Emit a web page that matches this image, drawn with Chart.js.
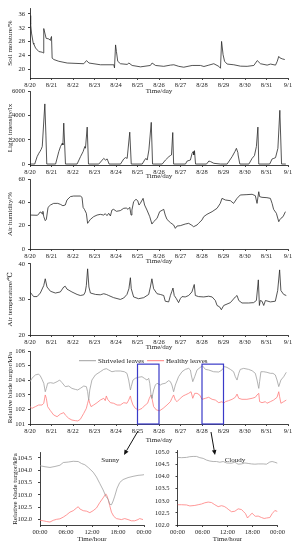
<!DOCTYPE html>
<html>
<head>
<meta charset="utf-8">
<script src="https://cdn.jsdelivr.net/npm/chart.js@4.4.1/dist/chart.umd.min.js"></script>
<style>
    html, body { margin: 0; padding: 0; background: #fff; }
    #wrap { position: relative; width: 298px; height: 550px; overflow: hidden; }
    #wrap canvas { position: absolute; }
</style>
</head>
<body>
<div id="wrap"></div>
<script>
// x positions are days since 8/20 00:00 (top panels) or hours of the day (bottom panels)
const dayTicks = [0, 1, 2, 3, 4, 5, 6, 7, 8, 9, 10, 11, 12];
const dayLabels = ['8/20', '8/21', '8/22', '8/23', '8/24', '8/25', '8/26', '8/27', '8/28', '8/29', '8/30', '8/31', '9/1'];
const hourTicks = [0, 6, 12, 18, 24];
const hourLabels = ['00:00', '06:00', '12:00', '18:00', '00:00'];

const soilTicks = [20, 24, 28, 32, 36];
const lightTicks = [0, 2000, 4000, 6000];
const humidityTicks = [0, 20, 40, 60];
const tempTicks = [20, 30, 40];
const turgorTicks = [101, 102, 103, 104, 105, 106];
const sunnyTicks = [102, 102.5, 103, 103.5, 104, 104.5];
const cloudyTicks = [102, 102.5, 103, 103.5, 104, 104.5, 105];

// Soil moisture (%)
const soilMoisture = [
    [0, 35.5], [0.03, 33.0], [0.07, 30.5], [0.15, 27.6], [0.18, 27.3], [0.26, 26.2], [0.41, 25.2], [0.57, 25.0], [0.61, 24.8], [0.64, 31.8],
    [0.75, 29.0], [0.88, 28.8], [0.95, 28.4], [0.98, 29.3], [1.0, 29.5], [1.03, 23.3], [1.11, 22.9], [1.34, 22.4], [1.73, 21.9], [2.5, 21.7],
    [2.63, 22.6], [2.74, 21.9], [3.28, 21.4], [3.9, 21.4], [3.93, 20.5], [3.98, 27.1], [4.02, 25.2], [4.08, 22.4], [4.21, 21.7], [4.52, 21.5],
    [4.6, 21.9], [4.75, 21.2], [5.14, 20.8], [5.6, 21.2], [5.68, 21.9], [5.84, 21.2], [6.22, 20.95], [6.53, 21.3], [6.69, 21.4], [6.92, 20.95],
    [7.15, 20.7], [7.54, 21.2], [7.93, 21.2], [8.09, 20.9], [8.32, 21.3], [8.55, 21.7], [8.78, 20.95], [8.86, 20.4], [8.91, 28.1], [8.98, 24.3],
    [9.05, 22.4], [9.17, 21.6], [9.48, 21.4], [9.79, 21.0], [10.1, 20.95], [10.41, 21.2], [10.57, 22.6], [10.72, 21.7], [11.03, 21.3], [11.19, 21.6],
    [11.42, 21.3], [11.5, 22.4], [11.57, 23.8], [11.62, 23.4], [11.73, 23.1], [11.85, 22.9]
];

// Light intensity (lx)
const lightIntensity = [
    [0, 0], [0.22, 0], [0.33, 610], [0.41, 890], [0.46, 1030], [0.52, 1220], [0.57, 1450], [0.69, 4980], [0.74, 2400], [0.78, 0],
    [1.19, 0], [1.34, 1030], [1.42, 1450], [1.5, 1720], [1.53, 1580], [1.57, 3390], [1.65, 0],
    [2.19, 0], [2.35, 610], [2.47, 1030], [2.55, 1450], [2.58, 1310], [2.66, 3060], [2.72, 0],
    [3.2, 0], [3.36, 330], [3.43, 470], [3.51, 330], [3.59, 420], [3.68, 0],
    [4.21, 0], [4.36, 420], [4.44, 530], [4.52, 470], [4.64, 2640], [4.71, 0],
    [5.22, 0], [5.33, 330], [5.39, 470], [5.45, 330], [5.53, 1170], [5.64, 3450], [5.7, 0],
    [6.15, 0], [6.3, 330], [6.46, 610], [6.53, 700], [6.58, 750], [6.64, 2610], [6.68, 0],
    [7.23, 0], [7.31, 250], [7.46, 330], [7.54, 890], [7.59, 1030], [7.62, 750], [7.65, 1110], [7.7, 0],
    [8.21, 0], [8.32, 250], [8.4, 200], [8.55, 60], [8.86, 0],
    [9.17, 0], [9.4, 610], [9.53, 1030], [9.6, 1300], [9.67, 940], [9.68, 750], [9.76, 0],
    [10.18, 0], [10.33, 470], [10.44, 700], [10.53, 1450], [10.6, 3060], [10.64, 0],
    [11.15, 0], [11.26, 420], [11.34, 470], [11.42, 530], [11.53, 1300], [11.62, 4450], [11.7, 0], [11.9, 0]
];

// Air humidity (%)
const airHumidity = [
    [0.02, 29.1], [0.33, 28.9], [0.4, 29.7], [0.45, 31.4], [0.51, 31.7], [0.57, 30.0], [0.6, 32.3], [0.64, 27.7], [0.71, 24.3], [0.76, 25.4],
    [0.84, 35.7], [0.95, 37.7], [1.1, 39.1], [1.29, 39.1], [1.41, 38.3], [1.53, 37.1], [1.64, 37.7], [1.72, 42.0], [1.88, 44.9], [2.03, 45.4],
    [2.34, 45.4], [2.42, 44.3], [2.47, 35.7], [2.53, 34.0], [2.62, 30.6], [2.68, 22.0], [2.73, 23.4], [2.81, 25.4], [2.96, 27.7], [3.12, 29.1],
    [3.27, 29.7], [3.43, 29.1], [3.5, 30.3], [3.58, 28.6], [3.66, 30.6], [3.74, 28.3], [3.81, 33.4], [3.89, 34.0], [4.02, 32.3], [4.2, 32.9],
    [4.36, 34.9], [4.48, 35.1], [4.56, 34.0], [4.64, 35.7], [4.7, 29.1], [4.74, 33.4], [4.82, 40.6], [4.93, 42.6], [5.01, 41.4], [5.07, 37.7],
    [5.13, 39.1], [5.26, 43.4], [5.33, 37.7], [5.44, 33.4], [5.57, 27.7], [5.67, 21.4], [5.75, 23.4], [5.91, 26.3], [6.03, 32.0], [6.22, 34.0],
    [6.29, 29.1], [6.37, 25.4], [6.53, 22.6], [6.68, 20.6], [6.76, 17.7], [6.84, 19.7], [6.99, 20.0], [7.22, 21.4], [7.38, 22.0], [7.53, 20.3],
    [7.61, 19.1], [7.77, 20.6], [7.84, 22.0], [8.0, 24.9], [8.08, 27.7], [8.23, 29.7], [8.47, 32.0], [8.7, 34.9], [8.85, 39.1], [8.93, 43.4],
    [9.09, 42.0], [9.32, 41.4], [9.47, 39.1], [9.63, 43.4], [9.78, 46.3], [10.09, 46.6], [10.33, 46.9], [10.48, 45.7], [10.56, 39.1], [10.64, 49.1],
    [10.68, 44.9], [10.79, 44.3], [11.02, 44.0], [11.18, 43.4], [11.26, 39.1], [11.33, 34.0], [11.46, 30.6], [11.57, 23.4], [11.61, 24.9], [11.67, 26.3],
    [11.77, 27.7], [11.88, 32.0]
];

// Air temperature (°C)
const airTemperature = [
    [0, 32.1], [0.09, 31.4], [0.17, 30.8], [0.33, 30.8], [0.48, 31.8], [0.64, 33.9], [0.71, 35.8], [0.79, 33.5], [0.95, 32.3], [1.18, 31.8],
    [1.41, 32.1], [1.57, 33.5], [1.64, 33.7], [1.72, 32.9], [1.95, 32.1], [2.19, 31.4], [2.34, 31.1], [2.5, 31.3], [2.57, 32.1], [2.62, 33.9],
    [2.68, 38.6], [2.74, 33.5], [2.81, 31.8], [3.05, 31.4], [3.27, 31.3], [3.43, 31.6], [3.55, 31.4], [3.66, 31.1], [3.89, 30.5], [4.2, 30.0],
    [4.36, 30.4], [4.51, 31.4], [4.6, 33.0], [4.67, 36.1], [4.71, 33.0], [4.82, 30.7], [5.05, 30.2], [5.29, 30.5], [5.52, 31.4], [5.6, 33.5],
    [5.67, 35.8], [5.75, 33.0], [5.91, 31.6], [6.06, 31.4], [6.22, 31.1], [6.29, 29.5], [6.45, 29.3], [6.53, 31.1], [6.6, 32.3], [6.65, 33.2],
    [6.71, 31.1], [6.81, 30.2], [6.91, 29.1], [6.99, 30.2], [7.07, 30.8], [7.22, 30.7], [7.38, 31.1], [7.53, 32.1], [7.64, 34.2], [7.69, 31.1],
    [7.84, 30.8], [8.08, 30.7], [8.31, 30.9], [8.47, 30.7], [8.62, 29.7], [8.7, 28.3], [8.82, 27.9], [8.9, 27.1], [9.01, 28.3], [9.32, 29.1],
    [9.55, 30.7], [9.63, 31.1], [9.71, 29.7], [9.86, 29.0], [10.17, 29.0], [10.4, 29.1], [10.53, 29.7], [10.62, 35.5], [10.67, 28.3], [10.71, 29.7],
    [10.79, 29.5], [10.87, 28.3], [10.95, 29.7], [11.18, 29.3], [11.41, 29.5], [11.52, 32.5], [11.61, 38.3], [11.67, 32.5], [11.8, 31.4], [11.92, 31.1]
];

// Relative blade turgor (kPa), 12 days
const shriveledTurgor = [
    [0, 103.9], [0.09, 104.13], [0.25, 104.36], [0.4, 104.42], [0.48, 104.29], [0.56, 104.06], [0.64, 103.79], [0.71, 103.21], [0.76, 103.44], [0.82, 103.79],
    [0.95, 103.83], [1.1, 103.79], [1.26, 103.9], [1.38, 104.01], [1.49, 103.83], [1.64, 103.56], [1.8, 103.6], [1.95, 103.44], [2.11, 103.37], [2.22, 103.33],
    [2.34, 103.44], [2.5, 103.6], [2.62, 103.56], [2.68, 103.21], [2.73, 102.64], [2.78, 103.33], [2.88, 104.01], [3.04, 104.36], [3.27, 104.58], [3.43, 104.74],
    [3.55, 104.79], [3.66, 104.7], [3.81, 104.58], [3.97, 104.63], [4.2, 104.63], [4.39, 104.58], [4.51, 104.47], [4.59, 104.01], [4.67, 103.33], [4.71, 103.56],
    [4.79, 104.01], [4.9, 104.13], [5.05, 104.2], [5.21, 104.24], [5.32, 104.13], [5.44, 104.01], [5.52, 104.13], [5.57, 103.79], [5.63, 102.99], [5.67, 102.76],
    [5.75, 103.33], [5.83, 103.67], [5.91, 103.79], [6.06, 103.67], [6.14, 103.74], [6.29, 103.79], [6.45, 103.97], [6.53, 103.9], [6.6, 103.67], [6.68, 103.21],
    [6.76, 103.67], [6.91, 104.24], [7.07, 104.58], [7.22, 104.74], [7.38, 104.81], [7.46, 104.7], [7.5, 104.36], [7.57, 103.9], [7.66, 104.24], [7.77, 104.7],
    [7.92, 104.88], [8.03, 104.97], [8.16, 104.74], [8.31, 104.7], [8.54, 104.58], [8.78, 104.56], [8.93, 104.7], [9.04, 104.93], [9.16, 104.88], [9.32, 104.74],
    [9.47, 104.58], [9.55, 104.24], [9.63, 104.01], [9.71, 104.47], [9.78, 104.74], [9.94, 104.81], [10.17, 104.74], [10.33, 104.65], [10.48, 104.47], [10.56, 104.01],
    [10.64, 103.44], [10.68, 103.9], [10.74, 104.58], [10.87, 104.58], [11.02, 104.54], [11.18, 104.47], [11.3, 104.47], [11.41, 104.36], [11.49, 104.01], [11.57, 103.56],
    [11.67, 104.01], [11.8, 104.24], [11.92, 104.54]
];
const healthyTurgor = [
    [0, 102.19], [0.09, 102.07], [0.25, 102.19], [0.4, 102.3], [0.56, 102.3], [0.64, 102.42], [0.71, 102.99], [0.76, 102.76], [0.82, 102.19], [0.95, 101.91],
    [1.1, 101.62], [1.26, 101.5], [1.41, 101.68], [1.57, 101.78], [1.64, 101.62], [1.8, 101.39], [1.95, 101.27], [2.11, 101.23], [2.22, 101.21], [2.34, 101.32],
    [2.5, 101.73], [2.62, 102.07], [2.68, 102.42], [2.73, 102.69], [2.78, 102.42], [2.84, 102.19], [2.96, 102.3], [3.12, 102.46], [3.27, 102.64], [3.43, 102.76],
    [3.5, 102.6], [3.55, 102.92], [3.61, 102.69], [3.74, 102.46], [3.89, 102.42], [4.05, 102.3], [4.2, 102.3], [4.36, 102.46], [4.51, 102.42], [4.59, 102.64],
    [4.67, 102.92], [4.71, 102.64], [4.79, 102.3], [4.9, 102.07], [5.05, 101.96], [5.21, 102.07], [5.36, 102.3], [5.47, 102.42], [5.55, 102.76], [5.63, 102.99],
    [5.69, 102.64], [5.75, 102.19], [5.88, 101.96], [6.03, 101.91], [6.19, 102.07], [6.37, 102.3], [6.53, 102.53], [6.6, 102.76], [6.68, 102.99], [6.76, 102.64],
    [6.84, 102.53], [6.99, 102.76], [7.12, 102.92], [7.22, 102.99], [7.38, 103.1], [7.49, 103.21], [7.57, 102.76], [7.66, 103.1], [7.77, 103.1], [7.89, 102.99],
    [8.0, 102.69], [8.16, 102.76], [8.31, 102.83], [8.47, 102.69], [8.62, 102.64], [8.78, 102.46], [8.93, 102.53], [9.01, 102.42], [9.09, 102.53], [9.24, 102.6],
    [9.4, 102.69], [9.55, 102.83], [9.63, 103.05], [9.71, 102.76], [9.86, 102.69], [10.09, 102.69], [10.33, 102.76], [10.48, 102.83], [10.56, 102.99], [10.64, 103.1],
    [10.68, 102.53], [10.79, 102.46], [10.95, 102.53], [11.02, 102.42], [11.18, 102.53], [11.33, 102.64], [11.49, 102.83], [11.57, 103.21], [11.61, 102.87], [11.67, 102.42],
    [11.8, 102.53], [11.92, 102.64]
];
const highlightDays = [[5, 6], [8, 9]];
const highlightTop = 105.1;

// Sunny day (8/25), hours
const sunnyShriveled = [
    [0, 104.18], [1.15, 104.14], [2.3, 104.11], [3.45, 104.15], [4.6, 104.2], [5.37, 104.31], [6.52, 104.33], [7.67, 104.36], [8.82, 104.35], [9.59, 104.27],
    [10.35, 104.22], [11.12, 104.11], [12.27, 103.92], [13.04, 103.72], [13.8, 103.46], [14.57, 103.2], [15.18, 102.95], [15.72, 102.82], [16.1, 102.62], [16.49, 102.6],
    [16.87, 102.75], [17.25, 102.95], [17.79, 103.27], [18.4, 103.5], [19.17, 103.62], [20.32, 103.7], [21.47, 103.75], [22.62, 103.79], [23.77, 103.81], [24, 103.82]
];
const sunnyHealthy = [
    [0, 101.97], [0.77, 101.95], [1.53, 101.92], [2.3, 101.9], [3.07, 101.97], [3.83, 102.01], [4.6, 102.03], [5.37, 102.1], [6.13, 102.19], [6.9, 102.3],
    [7.67, 102.36], [8.44, 102.47], [8.82, 102.52], [9.2, 102.43], [9.97, 102.36], [10.74, 102.34], [11.5, 102.28], [12.27, 102.36], [13.04, 102.47], [13.8, 102.69],
    [14.57, 102.88], [15.18, 103.04], [15.49, 102.95], [15.72, 102.82], [16.1, 102.56], [16.49, 102.3], [17.02, 102.13], [17.64, 102.04], [18.79, 102.0], [19.56, 102.04],
    [20.32, 102.0], [21.09, 101.95], [21.86, 101.95], [22.62, 102.0], [23.0, 102.04], [23.77, 102.0]
];

// Cloudy day (8/28), hours
const cloudyShriveled = [
    [0, 104.8], [0.96, 104.79], [2.16, 104.8], [2.96, 104.83], [3.76, 104.84], [4.56, 104.84], [5.36, 104.79], [6.16, 104.76], [6.96, 104.69], [7.76, 104.65],
    [8.56, 104.63], [9.36, 104.63], [10.16, 104.6], [10.96, 104.63], [11.76, 104.57], [12.96, 104.56], [13.76, 104.6], [14.56, 104.52], [15.36, 104.53], [16.16, 104.57],
    [16.96, 104.55], [17.76, 104.53], [18.56, 104.52], [19.36, 104.53], [20.56, 104.53], [21.36, 104.52], [22.16, 104.61], [22.72, 104.63], [23.36, 104.6], [24, 104.56]
];
const cloudyHealthy = [
    [0, 102.84], [0.96, 102.84], [2.16, 102.83], [2.96, 102.79], [4.16, 102.81], [4.96, 102.84], [5.76, 102.87], [6.56, 102.92], [7.36, 102.95], [8.16, 102.93],
    [8.96, 102.84], [9.76, 102.76], [10.56, 102.8], [11.2, 102.77], [11.76, 102.71], [12.32, 102.63], [12.96, 102.55], [13.76, 102.57], [14.56, 102.67], [15.36, 102.64],
    [15.76, 102.57], [16.32, 102.47], [16.8, 102.29], [17.36, 102.4], [17.92, 102.49], [18.4, 102.4], [18.72, 102.36], [19.36, 102.37], [20.16, 102.31], [20.8, 102.27],
    [21.36, 102.29], [22.16, 102.31], [22.72, 102.47], [23.36, 102.6], [24, 102.56]
];

const FONT = '"Liberation Serif", "DejaVu Serif", serif';
const LINE = '#2a2a2a';
const GREY = 'rgb(160,160,160)';
const RED = 'rgb(255,125,125)';

Chart.defaults.font.family = FONT;
Chart.defaults.color = '#222';

const wrap = document.getElementById('wrap');

// Build one panel; chart area is pinned to page coords given in o.area
function makePanel(o) {
    const left = o.canvasLeft || 0;
    const right = o.canvasRight || 298;
    const top = Math.floor(o.area.top - 7);
    const xh = o.titleOff + 4.5;
    const cv = document.createElement('canvas');
    cv.width = right - left;
    cv.height = Math.ceil(o.area.bottom + xh - top) + 1;
    cv.style.left = left + 'px';
    cv.style.top = top + 'px';
    wrap.appendChild(cv);

    const padBottom = cv.height - xh - (o.area.bottom - top);
    const axisGrid = { display: true, drawOnChartArea: false, drawTicks: true, tickLength: 2, color: '#111', lineWidth: 0.8 };

    return new Chart(cv, {
        type: 'line',
        data: {
            datasets: o.series.map(s => ({
                data: s.points.map(([x, y]) => ({ x, y })),
                borderColor: s.color,
                borderWidth: s.width || 0.8,
                pointRadius: 0,
                tension: 0,
                fill: false
            }))
        },
        options: {
            responsive: false,
            animation: false,
            devicePixelRatio: 1,
            events: [],
            layout: { padding: { top: o.area.top - top, right: right - o.area.right, left: 0, bottom: padBottom } },
            plugins: { legend: { display: false }, tooltip: { enabled: false } },
            scales: {
                x: {
                    type: 'linear',
                    min: o.xMin,
                    max: o.xMax,
                    afterBuildTicks: s => { s.ticks = o.xTicks.map(v => ({ value: v })); },
                    ticks: {
                        autoSkip: false, maxRotation: 0, padding: 1,
                        font: { size: 6.5 },
                        callback: v => o.xLabels[o.xTicks.indexOf(v)]
                    },
                    grid: axisGrid,
                    border: { color: '#111', width: 0.8 },
                    title: { display: true, text: o.xTitle, font: { size: 7 }, padding: 0 },
                    afterFit: s => { s.height = xh; }
                },
                y: {
                    type: 'linear',
                    min: o.yMin,
                    max: o.yMax,
                    afterBuildTicks: s => { s.ticks = o.yTicks.map(v => ({ value: v })); },
                    ticks: {
                        padding: o.yTickPad || 3,
                        font: { size: 6.5 },
                        callback: v => o.yFmt ? o.yFmt(v) : String(v)
                    },
                    grid: axisGrid,
                    border: { color: '#111', width: 0.8 },
                    title: { display: !!o.yTitle, text: o.yTitle || '', font: { size: 7 }, padding: { top: o.yTitlePad || 6, bottom: 0 } },
                    afterFit: s => { s.width = o.area.left - left; }
                }
            }
        },
        plugins: o.plugins || []
    });
}

const dayAxis = { xMin: 0, xMax: 12, xTicks: dayTicks, xLabels: dayLabels, xTitle: 'Time/day' };
const hourAxis = { xMin: 0, xMax: 24, xTicks: hourTicks, xLabels: hourLabels, xTitle: 'Time/hour' };

makePanel({
    ...dayAxis,
    area: { left: 30, right: 288, top: 8, bottom: 78 }, titleOff: 13,
    yMin: 17.6, yMax: 37.7, yTicks: soilTicks, yTitle: 'Soil moisture/%',
    series: [{ points: soilMoisture, color: LINE }]
});

makePanel({
    ...dayAxis,
    area: { left: 30, right: 288, top: 91, bottom: 165 }, titleOff: 11,
    yMin: -80, yMax: 6050, yTicks: lightTicks, yTitle: 'Light intensity/lx',
    series: [{ points: lightIntensity, color: LINE }]
});

makePanel({
    ...dayAxis,
    area: { left: 30, right: 288, top: 179, bottom: 249 }, titleOff: 12,
    yMin: 0, yMax: 60, yTicks: humidityTicks, yTitle: 'Air humidity/%',
    series: [{ points: airHumidity, color: LINE }]
});

makePanel({
    ...dayAxis,
    area: { left: 30, right: 288, top: 263.5, bottom: 335 }, titleOff: 11.5,
    yMin: 20, yMax: 40.1, yTicks: tempTicks, yTitle: 'Air temperature/\u2103',
    series: [{ points: airTemperature, color: LINE }]
});

// legend drawn inside the turgor panel, boxes mark the two days shown below
const turgorExtras = {
    id: 'turgorExtras',
    afterDatasetsDraw(chart) {
        const { ctx, chartArea } = chart;
        const xs = chart.scales.x, ys = chart.scales.y;
        ctx.save();
        ctx.strokeStyle = '#3a3ac8';
        ctx.lineWidth = 1.2;
        highlightDays.forEach(([a, b]) => {
            const x0 = xs.getPixelForValue(a), x1 = xs.getPixelForValue(b);
            const y0 = ys.getPixelForValue(highlightTop), y1 = ys.getPixelForValue(ys.min);
            ctx.strokeRect(x0, y0, x1 - x0, y1 - y0);
        });

        const ly = chartArea.top + 9.7;
        ctx.font = '7px ' + FONT;
        ctx.textBaseline = 'middle';
        ctx.lineWidth = 1;
        let lx = chartArea.left + 49;
        [['Shriveled leaves', GREY], ['Healthy leaves', RED]].forEach(([label, color]) => {
            ctx.strokeStyle = color;
            ctx.beginPath();
            ctx.moveTo(lx, ly);
            ctx.lineTo(lx + 17, ly);
            ctx.stroke();
            ctx.fillStyle = '#222';
            ctx.fillText(label, lx + 19, ly);
            lx += 19 + ctx.measureText(label).width + 3;
        });
        ctx.restore();
    }
};

makePanel({
    ...dayAxis,
    area: { left: 30, right: 288, top: 351, bottom: 424 }, titleOff: 15.5,
    yMin: 101, yMax: 106, yTicks: turgorTicks, yTitle: 'Relative blade turgor/kPa',
    series: [{ points: shriveledTurgor, color: GREY }, { points: healthyTurgor, color: RED }],
    plugins: [turgorExtras]
});

function noteLabel(text, hour, value) {
    return {
        id: 'note',
        afterDatasetsDraw(chart) {
            const ctx = chart.ctx;
            ctx.save();
            ctx.font = '7px ' + FONT;
            ctx.fillStyle = '#222';
            ctx.textAlign = 'center';
            ctx.textBaseline = 'middle';
            ctx.fillText(text, chart.scales.x.getPixelForValue(hour), chart.scales.y.getPixelForValue(value));
            ctx.restore();
        }
    };
}

makePanel({
    ...hourAxis,
    canvasLeft: 0, canvasRight: 162,
    area: { left: 40, right: 144, top: 450, bottom: 525 }, titleOff: 14,
    yMin: 101.78, yMax: 104.7, yTicks: sunnyTicks, yFmt: v => v.toFixed(1), yTickPad: 6,
    yTitle: 'Relative blade turgor/kPa', yTitlePad: 11,
    series: [{ points: sunnyShriveled, color: GREY }, { points: sunnyHealthy, color: RED }],
    plugins: [noteLabel('Sunny', 16.2, 104.39)]
});

makePanel({
    ...hourAxis,
    canvasLeft: 148, canvasRight: 298,
    area: { left: 177.5, right: 277.5, top: 448, bottom: 525 }, titleOff: 14,
    yMin: 102.0, yMax: 105.07, yTicks: cloudyTicks, yFmt: v => v.toFixed(1), yTickPad: 6,
    series: [{ points: cloudyShriveled, color: GREY }, { points: cloudyHealthy, color: RED }],
    plugins: [noteLabel('Cloudy', 13.8, 104.67)]
});

// arrows from the highlighted days down to the detail panels
const arrows = [[138, 431, 124, 455], [211, 432, 215, 455]];
const ov = document.createElement('canvas');
ov.width = 298; ov.height = 550;
ov.style.left = '0px'; ov.style.top = '0px';
wrap.appendChild(ov);
const octx = ov.getContext('2d');
octx.strokeStyle = '#111';
octx.fillStyle = '#111';
octx.lineWidth = 1;
arrows.forEach(([x0, y0, x1, y1]) => {
    const ang = Math.atan2(y1 - y0, x1 - x0);
    const hx = x1 - 5 * Math.cos(ang), hy = y1 - 5 * Math.sin(ang);
    octx.beginPath();
    octx.moveTo(x0, y0);
    octx.lineTo(hx, hy);
    octx.stroke();
    octx.beginPath();
    octx.moveTo(x1, y1);
    octx.lineTo(hx + 2.3 * Math.sin(ang), hy - 2.3 * Math.cos(ang));
    octx.lineTo(hx - 2.3 * Math.sin(ang), hy + 2.3 * Math.cos(ang));
    octx.closePath();
    octx.fill();
});
</script>
</body>
</html>
